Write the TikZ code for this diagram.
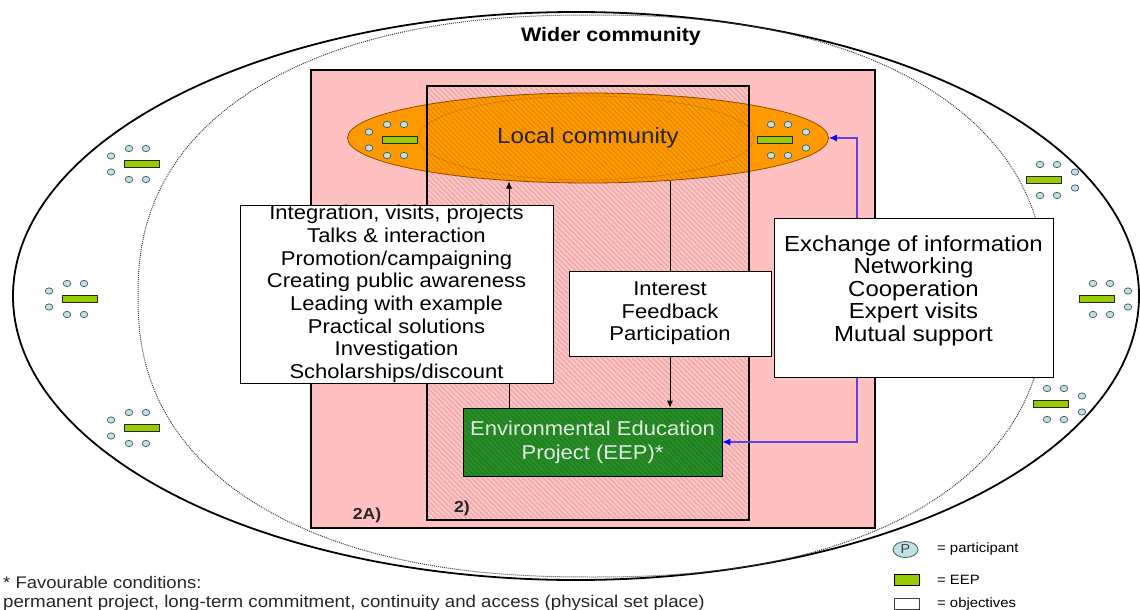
\documentclass[tikz,border=0pt]{standalone}
\usepackage{fontspec}
\setmainfont{Liberation Sans}[FakeStretch=1.1]
\usetikzlibrary{shapes.geometric,arrows.meta}
\definecolor{pinkbg}{RGB}{255,192,192}
\definecolor{orangefill}{RGB}{255,153,0}
\definecolor{orangeline}{RGB}{150,75,0}
\definecolor{orangedot}{RGB}{190,100,0}
\definecolor{eepgreen}{RGB}{38,140,38}
\definecolor{eeptext}{RGB}{236,246,236}
\definecolor{barGreen}{RGB}{153,204,0}
\definecolor{dotblue}{RGB}{190,225,230}
\definecolor{dotline}{RGB}{70,90,95}
\definecolor{linkblue}{RGB}{95,65,235}
\newcommand\fsz[2]{\fontsize{#1}{#2}\selectfont}
\newcommand\icongrp[3]{%
  \begin{scope}[shift={(#1,#2)},xscale=#3]
    \foreach \cx/\cy in {-31/-8,-31/8,-13/-15.5,4/-15.5,-13/15.5,4/15.5}
      \draw[pcirc] (\cx,\cy) ellipse [x radius=3.8pt, y radius=3.2pt];
    \draw[bar] (-17.5,-3.5) rectangle (17.5,3.5);
  \end{scope}}
\begin{document}
\begin{tikzpicture}[x=1pt,y=-1pt,
  pcirc/.style={draw=dotline, fill=dotblue, line width=0.7pt},
  bar/.style={draw=black!85, fill=barGreen, line width=0.7pt},
  objbox/.style={draw=black, line width=0.9pt, fill=white, align=center, inner sep=0pt},
  conn/.style={-{Latex[length=7pt,width=6pt]}, line width=0.8pt},
  plainconn/.style={line width=0.8pt},
  link/.style={linkblue, line width=1.1pt},
  blueTips/.style={{Latex[length=8pt,width=7pt,color=blue]}-{Latex[length=8pt,width=7pt,color=blue]}},
  hatchline/.style={black, opacity=0.15, line width=0.7pt}
]
\useasboundingbox (0,0) rectangle (1140,610);

% wider community (outer) and dotted boundary
\draw[line width=1.8pt] (576,296) ellipse [x radius=563pt, y radius=284pt];
\draw[densely dotted, line width=1pt, black!75]
  plot[domain=0:360, samples=181, smooth cycle, variable=\t]
  ({592+454*cos(\t)*(abs(cos(\t))+0.0001)^(-0.13)},
   {296+281*sin(\t)*(abs(sin(\t))+0.0001)^(-0.13)});

% outer icon groups
\icongrp{142}{164}{1}
\icongrp{80}{299}{1}
\icongrp{142}{428}{1}
\icongrp{1044}{180}{-1}
\icongrp{1097}{299}{-1}
\icongrp{1051}{404}{-1}

% 2A) pink area
\draw[fill=pinkbg, line width=2.6pt] (311,70) rectangle (875,528);

% local community
\node[ellipse, draw=orangeline, line width=0.8pt, fill=orangefill, minimum width=481pt, minimum height=90pt, inner sep=0pt, text=black!85, font=\fsz{22}{26}] (lc) at (588,138) {Local community};
\draw[densely dotted, orangedot, line width=0.7pt] (586,138) ellipse [x radius=168pt, y radius=42pt];
\icongrp{400}{140}{1}
\icongrp{775}{140}{-1}

% EEP
\node[draw=black, line width=0.8pt, fill=eepgreen, minimum width=259pt, minimum height=68pt, inner sep=0pt, align=center, text=eeptext, font=\fsz{20}{24}] (eep) at (592.5,442) {Environmental Education\\Project (EEP)*};

% 2) hatched area
\begin{scope}
  \clip (427,86) rectangle (749,520);
  \foreach \i in {0,...,150}
    \draw[hatchline] ({-7+\i*5.1},86) -- ++(434,434);
\end{scope}
\draw[line width=1.5pt] (427,86) rectangle (749,520);

% blue link (behind right box)
\coordinate (bturn) at (857,442);
\draw[link, blueTips] (lc.east) -| (bturn) -- (eep.east);

% objective boxes
\node[objbox, minimum width=313pt, minimum height=178pt, font=\fsz{20}{22.7}] (lbox) at (396.5,294)
  {Integration, visits, projects\\Talks \& interaction\\Promotion/campaigning\\Creating public awareness\\Leading with example\\Practical solutions\\Investigation\\Scholarships/discount};
\node[objbox, minimum width=202pt, minimum height=85pt, font=\fsz{20}{22.5}] (mbox) at (670,313.5)
  {Interest\\Feedback\\Participation};
\node[objbox, minimum width=279pt, minimum height=159pt, font=\fsz{21.8}{22.5}] (rbox) at (913.5,297.5)
  {Exchange of information\\Networking\\Cooperation\\Expert visits\\Mutual support\\[-4pt]\mbox{}};

% connectors
\coordinate (ltop) at (509,181.5);
\coordinate (mtop) at (670,180.5);
\draw[conn] (lbox.north -| ltop) -- (ltop);
\draw[plainconn] (eep.north -| ltop) -- (lbox.south -| ltop);
\draw[plainconn] (mtop) -- (mbox.north);
\draw[conn] (mbox.south) -- (eep.north -| mbox.south);

% labels
\node[font=\bfseries\fsz{19.5}{22}] (wc) at (611,36) {Wider community};
\node[font=\bfseries\fsz{16}{18}, text=black!85] (l2a) at (367,515) {2A)};
\node[font=\bfseries\fsz{16}{18}, text=black!85] (l2) at (462,508) {2)};

% footnote
\node[anchor=west, inner sep=0pt, font=\fsz{16.8}{18}, text=black!85] (fn1) at (3,582) {* Favourable conditions:};
\node[anchor=west, inner sep=0pt, font=\fsz{17}{18}, text=black!85] (fn2) at (3,603) {permanent project, long-term commitment, continuity and access (physical set place)};

% legend
\node[ellipse, draw=dotline, line width=0.8pt, fill=dotblue, minimum width=25pt, minimum height=16pt, inner sep=0pt, font=\fsz{13}{14}, text=black!75] (lgp) at (905.5,549.5) {P};
\node[anchor=west, inner sep=0pt, font=\fsz{13.5}{15}] (lgpt) at (937,549.5) {= participant};
\node[draw=black, line width=0.7pt, fill=barGreen, minimum width=25pt, minimum height=11pt, inner sep=0pt] (lge) at (906.5,579.5) {};
\node[anchor=west, inner sep=0pt, font=\fsz{13.5}{15}] (lget) at (937,580) {= EEP};
\node[draw=black!75, line width=0.7pt, fill=white, minimum width=25pt, minimum height=11pt, inner sep=0pt] (lgo) at (906.5,603.5) {};
\node[anchor=west, inner sep=0pt, font=\fsz{13.5}{15}] (lgot) at (937,604) {= objectives};
\end{tikzpicture}
\end{document}
